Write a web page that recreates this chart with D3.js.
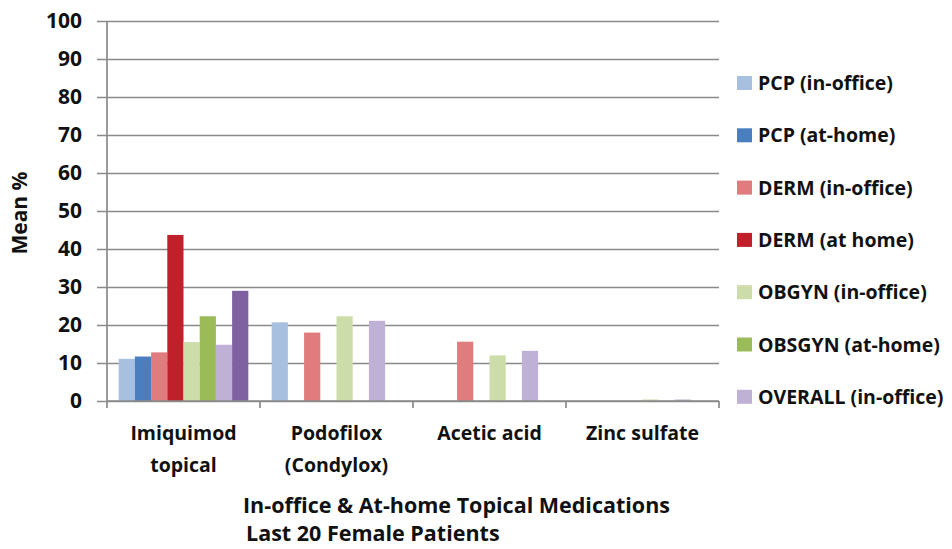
<!DOCTYPE html>
<html>
<head>
<meta charset="utf-8">
<script src="https://cdn.jsdelivr.net/npm/d3@7"></script>
<style>
  body { margin: 0; background: #fff; }
  text { font-family: "Open Sans", sans-serif; font-weight: bold; fill: #111; }
</style>
</head>
<body>
<script>
const categories = [['Imiquimod', 'topical'], ['Podofilox', '(Condylox)'], ['Acetic acid'], ['Zinc sulfate']];
const seriesNames = ['PCP (in-office)', 'PCP (at-home)', 'DERM (in-office)', 'DERM (at home)',
                     'OBGYN (in-office)', 'OBSGYN (at-home)', 'OVERALL (in-office)', 'OVERALL (at-home)'];
const seriesColors = ['#a7c0e0', '#4a7ebf', '#e07b7e', '#c0202a', '#cdddaa', '#9bbb59', '#bfb0d5', '#7f60a0'];
// values per series, one per category
const values = [
    [11.1, 20.7, 0, 0],
    [11.7, 0, 0, 0],
    [12.8, 18.0, 15.6, 0],
    [43.7, 0, 0, 0],
    [15.5, 22.3, 12.0, 0.4],
    [22.3, 0, 0, 0],
    [14.8, 21.1, 13.2, 0.4],
    [29.0, 0, 0, 0]
];
const yTicks = [0, 10, 20, 30, 40, 50, 60, 70, 80, 90, 100];
const legendCount = 7; // last series is cut off in the legend

window.onload = () => {
    const width = 952;
    const height = 549;
    const left = 107, right = 719, top = 21, bottom = 401;

    const svg = d3.select('body')
                  .append('svg')
                  .attr('width', width)
                  .attr('height', height);

    const catKeys = categories.map((d, i) => i);
    const x0 = d3.scaleBand().domain(catKeys).range([left, right]).padding(0);
    const x1 = d3.scaleBand().domain(seriesNames).range([0, x0.bandwidth()])
                 .paddingInner(0).paddingOuter(0.72);
    const y = d3.scaleLinear().domain([0, 100]).range([bottom, top]);

    // gridlines + y ticks
    const yAxis = svg.append('g')
          .attr('transform', `translate(${left},0)`)
          .call(d3.axisLeft(y).tickValues(yTicks).tickSize(10).tickPadding(15));
    yAxis.select('.domain').remove();
    yAxis.selectAll('.tick line')
         .attr('x2', right - left)
         .attr('x1', -10)
         .style('stroke', '#8a8a8a')
         .style('stroke-width', 1.7);
    yAxis.selectAll('.tick text')
         .style('font-size', '21px')
         .style('font-family', '"Open Sans", sans-serif')
         .style('font-weight', 'bold')
         .attr('fill', '#111');

    // bars
    const groups = svg.append('g')
          .selectAll('g')
          .data(categories.map((c, ci) => ({ ci, vals: seriesNames.map((s, si) => ({ s, si, v: values[si][ci] })) })))
          .enter()
          .append('g')
          .attr('transform', d => `translate(${x0(d.ci)},0)`);

    groups.selectAll('rect')
          .data(d => d.vals.filter(v => v.v > 0))
          .enter()
          .append('rect')
          .attr('x', d => x1(d.s))
          .attr('width', x1.bandwidth())
          .attr('y', d => y(d.v))
          .attr('height', d => y(0) - y(d.v))
          .style('fill', d => seriesColors[d.si]);

    // x axis
    svg.append('line')
       .attr('x1', left).attr('x2', right)
       .attr('y1', bottom).attr('y2', bottom)
       .style('stroke', '#8a8a8a').style('stroke-width', 1.7);
    svg.append('line')
       .attr('x1', left).attr('x2', left)
       .attr('y1', top).attr('y2', bottom + 7)
       .style('stroke', '#8a8a8a').style('stroke-width', 1.7);
    catKeys.forEach(k => {
        const px = x0(k) + x0.bandwidth();
        svg.append('line')
           .attr('x1', px).attr('x2', px)
           .attr('y1', bottom).attr('y2', bottom + 7)
           .style('stroke', '#8a8a8a').style('stroke-width', 1.7);
    });

    // category labels
    categories.forEach((lines, ci) => {
        const t = svg.append('text')
           .attr('x', x0(ci) + x0.bandwidth() / 2)
           .attr('y', 440)
           .attr('text-anchor', 'middle')
           .style('font-size', '19.5px');
        lines.forEach((l, li) => {
            t.append('tspan')
             .attr('x', x0(ci) + x0.bandwidth() / 2)
             .attr('dy', li === 0 ? 0 : 32)
             .text(l);
        });
    });

    // y label
    svg.append('text')
       .attr('transform', 'translate(27,213) rotate(-90)')
       .attr('text-anchor', 'middle')
       .style('font-size', '21px')
       .text('Mean %');

    // axis title
    svg.append('text')
       .attr('x', 243).attr('y', 513)
       .style('font-size', '21.5px')
       .text('In-office & At-home Topical Medications');
    svg.append('text')
       .attr('x', 246).attr('y', 541)
       .style('font-size', '21.5px')
       .text('Last 20 Female Patients');

    // legend
    const legend = svg.append('g')
          .selectAll('g')
          .data(seriesNames.slice(0, legendCount))
          .enter()
          .append('g')
          .attr('transform', (d, i) => `translate(737,${83 + i * 52.3})`);
    legend.append('rect')
          .attr('x', 0).attr('y', -7)
          .attr('width', 15).attr('height', 14)
          .style('fill', (d, i) => seriesColors[i]);
    legend.append('text')
          .attr('x', 21).attr('y', 7)
          .style('font-size', '19.5px')
          .text(d => d);
};
</script>
</body>
</html>
